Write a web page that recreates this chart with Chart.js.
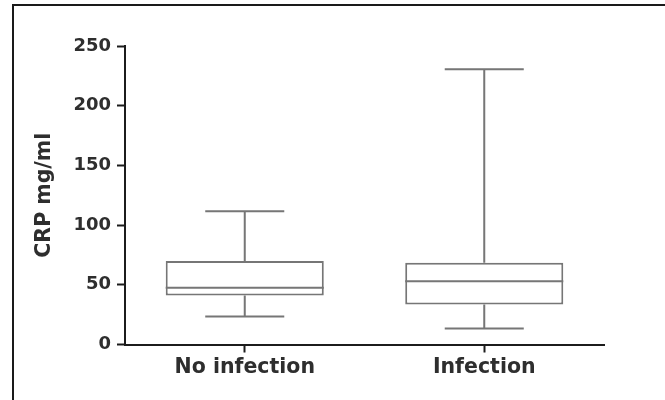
<!DOCTYPE html>
<html>
<head>
<meta charset="utf-8">
<style>
  html, body { margin: 0; padding: 0; background: #fff; }
  #wrap { position: relative; width: 665px; height: 400px; }
</style>
<script src="https://cdn.jsdelivr.net/npm/chart.js@4/dist/chart.umd.min.js"></script>
</head>
<body>
<div id="wrap"><canvas id="c" width="665" height="400"></canvas></div>
<script>
// CRP (mg/ml) box-and-whisker summary per group
const categories = ['No infection', 'Infection'];
const minValues    = [23.5, 13.5];
const q1Values     = [41, 33.5];
const medianValues = [47.5, 53];
const q3Values     = [70, 68.5];
const maxValues    = [111.5, 230.5];
const yTicks = [0, 50, 100, 150, 200, 250];

const boxColor = '#767676';
const axisColor = '#1c1c1c';
const textColor = '#2e2e2e';
const fontFamily = '"DejaVu Sans", "Liberation Sans", Arial, sans-serif';

// whiskers, caps and median lines drawn through the chart's own scales
const boxWhiskers = {
  id: 'boxWhiskers',
  afterDatasetsDraw(chart) {
    const ctx = chart.ctx;
    const x = chart.scales.x, y = chart.scales.y;
    const meta = chart.getDatasetMeta(0);
    ctx.save();
    ctx.strokeStyle = boxColor;
    ctx.lineWidth = 2;
    ctx.lineCap = 'butt';
    categories.forEach((c, i) => {
      const bar = meta.data[i];
      const cx = x.getPixelForValue(i);
      const half = bar.width / 2;
      const capHalf = half / 2;
      const yMin = y.getPixelForValue(minValues[i]);
      const yQ1 = y.getPixelForValue(q1Values[i]);
      const yMed = y.getPixelForValue(medianValues[i]);
      const yQ3 = y.getPixelForValue(q3Values[i]);
      const yMax = y.getPixelForValue(maxValues[i]);
      ctx.beginPath();
      // upper whisker + cap
      ctx.moveTo(cx, yQ3); ctx.lineTo(cx, yMax);
      ctx.moveTo(cx - capHalf, yMax); ctx.lineTo(cx + capHalf, yMax);
      // lower whisker + cap
      ctx.moveTo(cx, yQ1); ctx.lineTo(cx, yMin);
      ctx.moveTo(cx - capHalf, yMin); ctx.lineTo(cx + capHalf, yMin);
      // median
      ctx.moveTo(cx - half, yMed); ctx.lineTo(cx + half, yMed);
      ctx.stroke();
    });
    ctx.restore();
  }
};

// outer frame (left and top edges)
const frame = {
  id: 'frame',
  afterDraw(chart) {
    const ctx = chart.ctx;
    ctx.save();
    ctx.strokeStyle = '#1a1a1a';
    ctx.lineWidth = 2;
    ctx.beginPath();
    ctx.moveTo(13, 400);
    ctx.lineTo(13, 5);
    ctx.lineTo(665, 5);
    ctx.stroke();
    ctx.restore();
  }
};

new Chart(document.getElementById('c'), {
  type: 'bar',
  data: {
    labels: categories,
    datasets: [{
      data: categories.map((c, i) => [q1Values[i], q3Values[i]]),
      backgroundColor: '#ffffff',
      borderColor: boxColor,
      borderWidth: 2,
      borderSkipped: false,
      barPercentage: 0.66,
      categoryPercentage: 1.0
    }]
  },
  options: {
    responsive: false,
    animation: false,
    events: [],
    layout: { padding: { left: 32, right: 61, top: 46, bottom: 0 } },
    plugins: { legend: { display: false }, tooltip: { enabled: false } },
    scales: {
      x: {
        offset: true,
        afterFit(s) { s.height = 55.5; },
        grid: { display: true, offset: false, drawOnChartArea: false, tickLength: 8, tickColor: axisColor, tickWidth: 2 },
        border: { display: true, color: axisColor, width: 2 },
        ticks: { color: textColor, padding: 3, font: { family: fontFamily, weight: 'bold', size: 20.5 } }
      },
      y: {
        min: 0,
        max: 250,
        afterFit(s) { s.width = 93; },
        afterBuildTicks(s) { s.ticks = yTicks.map(v => ({ value: v })); },
        grid: { display: true, drawOnChartArea: false, tickLength: 8, tickColor: axisColor, tickWidth: 2 },
        border: { display: true, color: axisColor, width: 2 },
        ticks: { color: textColor, padding: 6, font: { family: fontFamily, weight: 'bold', size: 18 } },
        title: {
          display: true,
          text: 'CRP mg/ml',
          color: textColor,
          padding: 0,
          font: { family: fontFamily, weight: 'bold', size: 20.5 }
        }
      }
    }
  },
  plugins: [boxWhiskers, frame]
});
</script>
</body>
</html>
